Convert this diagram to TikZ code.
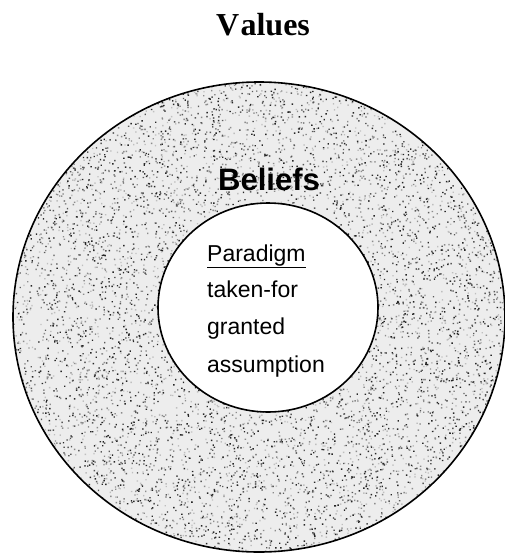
\documentclass[tikz,border=0pt]{standalone}
\usepackage{fontspec}
\usetikzlibrary{shapes.geometric}
\setmainfont{Liberation Serif}
\newfontfamily\arialb{Liberation Sans}
\begin{document}
\begin{tikzpicture}[x=1pt,y=-1pt,
  ring/.style={draw=black,line width=1.6pt},
  titletext/.style={font=\fontsize{32}{32}\selectfont\bfseries,inner sep=0pt,anchor=base},
  belieftext/.style={font=\arialb\fontsize{31}{31}\selectfont\bfseries,inner sep=0pt,anchor=base},
  coretext/.style={font=\arialb\fontsize{23}{23}\selectfont,inner sep=0pt,anchor=base west}]
\useasboundingbox (0,0) rectangle (505,554);
\fill[white] (0,0) rectangle (505,554);
% stippled outer ring
\begin{scope}
  \clip (259,317) ellipse (246 and 235);
  \fill[black!7] (259,317) ellipse (246 and 235);
  \pgfmathsetseed{7}
  \foreach \sh in {25,45,65,85}{
    \fill[black!\sh] \foreach \i in {1,...,2400}{
      ({13+492*rnd},{82+472*rnd}) rectangle ++(1.4,1.4)
    };
  }
\end{scope}
\node[ring,ellipse,minimum width=492pt,minimum height=470pt,inner sep=0pt] (values) at (259,317) {};
\node[ring,fill=white,ellipse,minimum width=220pt,minimum height=209pt,inner sep=0pt] (paradigm) at (268,307.5) {};
\node[titletext] (vt) at (263,35) {V\kern1.5pt alues};
\node[belieftext] (bt) at (269,190) {Beliefs};
\node[coretext] (l1) at (207,261) {\underline{Paradigm}};
\node[coretext] (l2) at (207,297) {taken-for};
\node[coretext] (l3) at (207,334) {granted};
\node[coretext] (l4) at (207,372) {assumption};
\end{tikzpicture}
\end{document}
